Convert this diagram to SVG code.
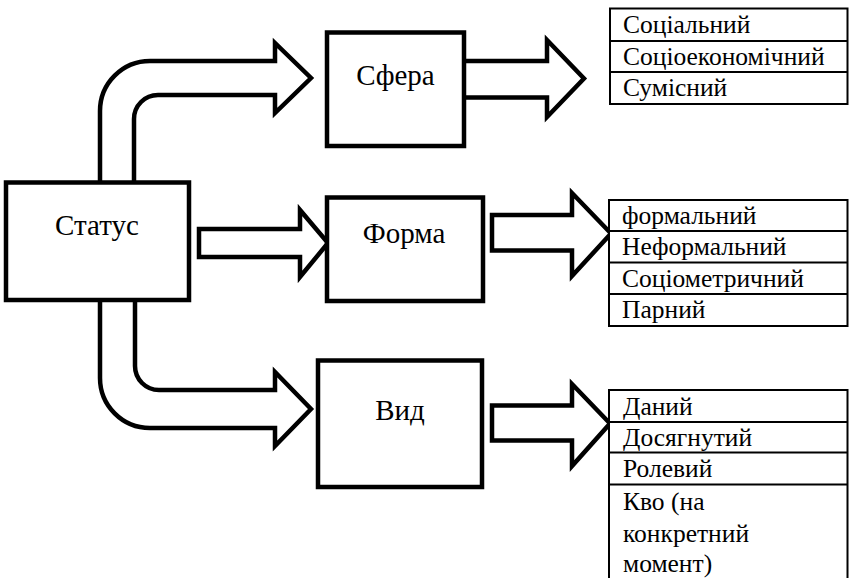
<svg xmlns="http://www.w3.org/2000/svg" width="849" height="578" viewBox="0 0 849 578">
<style>
.box{fill:#fff;stroke:#000;stroke-width:4.5}
.arr{fill:#fff;stroke:#000;stroke-width:4.5;stroke-linejoin:miter}
.tbl{fill:#fff;stroke:#000;stroke-width:2}
.lbl{font-family:'Liberation Serif',serif;font-size:29px;fill:#000;text-anchor:middle}
.cell{font-family:'Liberation Serif',serif;font-size:25.5px;fill:#000}
</style>
<rect width="849" height="578" fill="#fff"/>
<g id="connectors">
<path class="arr" d="M100,182 L100,111 A50,50 0 0 1 150,61 L275,61 L275,43 L311,78 L275,113 L275,95 L158,95 A24,24 0 0 0 134,119 L134,182"/>
<path class="arr" d="M199,229 L300,229 L300,210 L328,243 L300,277 L300,257 L199,257 Z"/>
<path class="arr" d="M100,300 L100,378 A50,50 0 0 0 150,428 L275,428 L275,446 L311,409 L275,372 L275,390 L159,390 A24,24 0 0 1 135,366 L135,300"/>
<path class="arr" d="M464,61 L547,61 L547,40 L584,78.5 L547,117 L547,97.5 L464,97.5"/>
<path class="arr" d="M492,215 L572,215 L572,193 L611,233.5 L572,276 L572,250.5 L492,250.5 Z"/>
<path class="arr" d="M492,405.5 L572,405.5 L572,384 L610,423.5 L572,466 L572,440.5 L492,440.5 Z"/>
</g>
<g id="status">
<rect class="box" x="6" y="182.5" width="183" height="117.5"/>
<text class="lbl" x="97" y="235">Статус</text>
</g>
<g id="sfera">
<rect class="box" x="327" y="32.5" width="137" height="113.5"/>
<text class="lbl" x="395.5" y="85">Сфера</text>
</g>
<g id="forma">
<rect class="box" x="327" y="197.5" width="156" height="103.5"/>
<text class="lbl" x="404" y="243">Форма</text>
</g>
<g id="vid">
<rect class="box" x="318" y="360.5" width="164" height="126.5"/>
<text class="lbl" x="400" y="420">Вид</text>
</g>
<g id="table-sfera">
<rect class="tbl" x="610" y="8.5" width="237.5" height="95.5"/>
<line class="tbl" x1="610" y1="41" x2="847.5" y2="41"/>
<line class="tbl" x1="610" y1="72" x2="847.5" y2="72"/>
<text class="cell" x="623" y="33">Соціальний</text>
<text class="cell" x="623" y="64.5">Соціоекономічний</text>
<text class="cell" x="623" y="96">Сумісний</text>
</g>
<g id="table-forma">
<rect class="tbl" x="609" y="200" width="238.5" height="126"/>
<line class="tbl" x1="609" y1="231" x2="847.5" y2="231"/>
<line class="tbl" x1="609" y1="262.5" x2="847.5" y2="262.5"/>
<line class="tbl" x1="609" y1="294" x2="847.5" y2="294"/>
<text class="cell" x="622" y="223.5">формальний</text>
<text class="cell" x="622" y="255">Неформальний</text>
<text class="cell" x="622" y="286.5">Соціометричний</text>
<text class="cell" x="622" y="318">Парний</text>
</g>
<g id="table-vid">
<rect class="tbl" x="609" y="390" width="238.5" height="210"/>
<line class="tbl" x1="609" y1="422" x2="847.5" y2="422"/>
<line class="tbl" x1="609" y1="452.5" x2="847.5" y2="452.5"/>
<line class="tbl" x1="609" y1="484.5" x2="847.5" y2="484.5"/>
<text class="cell" x="623" y="414.5">Даний</text>
<text class="cell" x="623" y="445.5">Досягнутий</text>
<text class="cell" x="623" y="477">Ролевий</text>
<text class="cell" x="623" y="510">Кво (на</text>
<text class="cell" x="623" y="541.5">конкретний</text>
<text class="cell" x="623" y="571.5">момент)</text>
</g>
</svg>
